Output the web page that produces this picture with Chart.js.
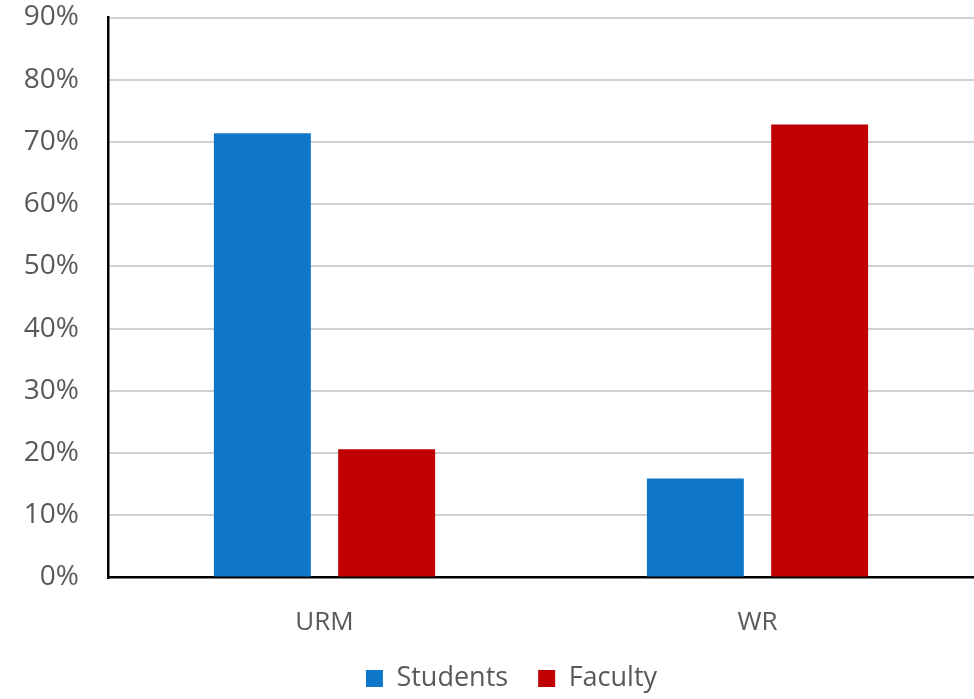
<!DOCTYPE html>
<html>
<head>
<meta charset="utf-8">
<script src="https://cdn.jsdelivr.net/npm/chart.js@4/dist/chart.umd.min.js"></script>
<style>
html,body{margin:0;padding:0;background:#fff;}
#wrap{width:974px;height:699px;position:relative;}
</style>
</head>
<body>
<div id="wrap"><canvas id="c" width="974" height="699"></canvas></div>
<script>
const categories = ["URM", "WR"];
const studentsValues = [71.4, 15.9];
const facultyValues = [20.6, 72.8];
const seriesNames = ["Students", "Faculty"];
const yTicks = [0, 10, 20, 30, 40, 50, 60, 70, 80, 90];

const FONT = "'Open Sans', 'Liberation Sans', sans-serif";
const GRAY = "#595959";

const shiftLegend = {
  id: 'shiftLegend',
  afterLayout(chart) {
    if (chart.legend) { chart.legend.left += 49; }
  }
};

new Chart(document.getElementById('c'), {
  type: 'bar',
  data: {
    labels: categories,
    datasets: [
      { label: seriesNames[0], data: studentsValues, backgroundColor: '#0E77C9', categoryPercentage: 0.574, barPercentage: 0.78 },
      { label: seriesNames[1], data: facultyValues, backgroundColor: '#C00000', categoryPercentage: 0.574, barPercentage: 0.78 }
    ]
  },
  plugins: [shiftLegend],
  options: {
    responsive: false,
    animation: false,
    layout: { padding: { top: 17.5, right: 0, bottom: -3, left: 0 } },
    plugins: {
      tooltip: { enabled: false },
      legend: {
        position: 'bottom',
        labels: {
          font: { family: FONT, size: 27 },
          color: GRAY,
          boxWidth: 17,
          boxHeight: 17,
          padding: 30
        }
      }
    },
    scales: {
      x: {
        grid: { display: false, drawTicks: false },
        border: { color: '#000', width: 2.5 },
        afterFit: (s) => { s.height = 57.5; s.paddingLeft = 0; s.paddingRight = 0; },
        ticks: { font: { family: FONT, size: 26 }, color: GRAY, padding: 29 }
      },
      y: {
        min: 0, max: 90,
        afterBuildTicks: (s) => { s.ticks = yTicks.map(v => ({ value: v })); },
        afterFit: (s) => { s.width = 108; s.paddingTop = 0; s.paddingBottom = 0; },
        grid: { color: (ctx) => ctx.tick && ctx.tick.value === 0 ? 'rgba(0,0,0,0)' : '#D0D0D0', lineWidth: 2, drawTicks: false },
        border: { color: '#000', width: 2.5 },
        ticks: { font: { family: FONT, size: 28 }, color: GRAY, padding: 29, callback: (v) => v + '%' }
      }
    }
  }
});
</script>
</body>
</html>
